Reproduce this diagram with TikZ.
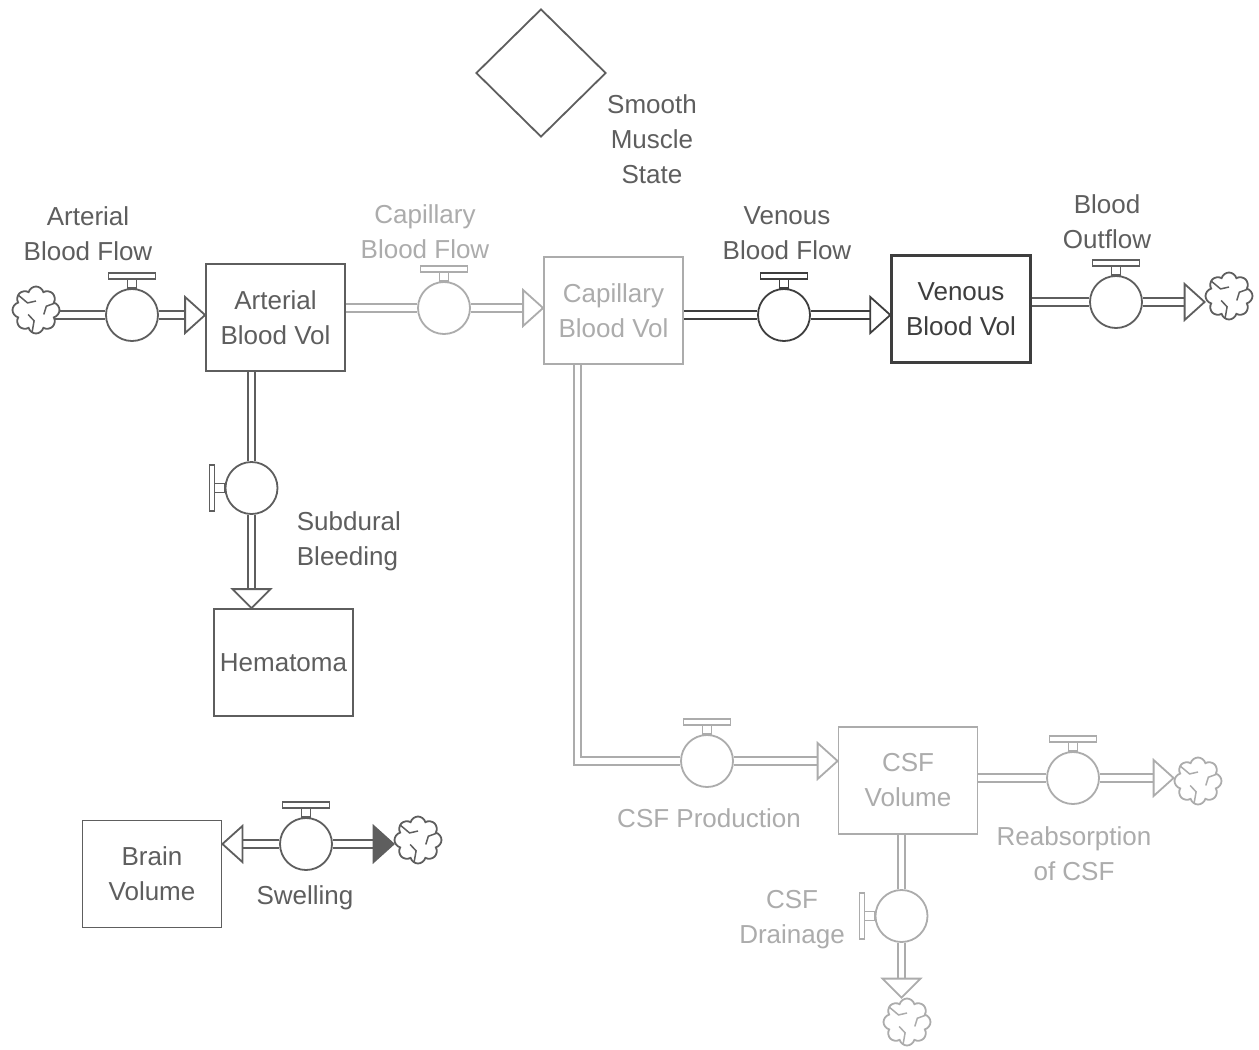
\documentclass[tikz,border=0pt]{standalone}
\usepackage{fontspec}
\setmainfont{Liberation Sans}
\usetikzlibrary{shapes.symbols,shapes.geometric,backgrounds,calc}
\definecolor{dk}{HTML}{5E5E5E}
\definecolor{dkk}{HTML}{3E3E3E}
\definecolor{lt}{HTML}{ACACAC}
\newcommand\myahR[3]{\draw[head, draw=#2, #3] (#1) -- ++(-20,-18) -- ++(0,36) -- cycle;}
\newcommand\myahL[3]{\draw[head, draw=#2, #3] (#1) -- ++(20,-18) -- ++(0,36) -- cycle;}
\newcommand\myahD[3]{\draw[head, draw=#2, #3] (#1) -- ++(-19,-19) -- ++(38,0) -- cycle;}
\begin{document}
\begin{tikzpicture}[x=1pt,y=-1pt, line width=1.8pt, line join=miter,
  ink/.style={draw=#1, text=#1},
  txt/.style={font=\fontsize{26}{35}\selectfont, align=center, inner sep=0pt},
  stock/.style={draw, fill=white, minimum width=139pt, minimum height=107pt, inner sep=0pt, txt},
  valve/.style={circle, draw, fill=white, minimum size=52pt, inner sep=0pt},
  pipe/.style={double=white, double distance=5.5pt, line width=1.8pt},
  head/.style={draw, fill=white},
  cloudy/.style={cloud, cloud puffs=8, aspect=1, draw=#1, fill=white, minimum width=47pt, minimum height=47pt, inner sep=0pt,
    path picture={\foreach \a in {100,220,340}{\draw[#1, line width=1.5pt] ($(path picture bounding box.center)+(\a:24)$) -- ($(path picture bounding box.center)+(\a:11)$) -- ($(path picture bounding box.center)+(\a+50:9)$);}}},
  htop/.pic={\draw[fill=white, line width=1.5pt] (-4.5,0) rectangle (4.5,-9); \draw[fill=white, line width=1.5pt] (-23.5,-9) rectangle (23.5,-15);},
  hleft/.pic={\draw[fill=white, line width=1.5pt] (0,-4.5) rectangle (-10,4.5); \draw[fill=white, line width=1.5pt] (-10,-23) rectangle (-15,23);}]
\useasboundingbox (0,0) rectangle (1259,1050);

% stocks
\node[stock, ink=dk] (abv) at (275.5,317.5) {Arterial\\Blood Vol};
\node[stock, ink=lt] (cbv) at (613.5,310.5) {Capillary\\Blood Vol};
\node[stock, ink=dkk, line width=2.4pt] (vbv) at (961,309) {Venous\\Blood Vol};
\node[stock, ink=dk] (hem) at (283.5,662.5) {Hematoma};
\node[stock, ink=dk] (brain) at (152,874) {Brain\\Volume};
\node[stock, ink=lt] (csf) at (908,780.5) {CSF\\Volume};

% converter
\node[diamond, draw=dk, minimum width=130pt, minimum height=128pt, inner sep=0pt] (sms) at (541,73) {};
\node[txt, text=dk] (smsl) at (652,139) {Smooth\\Muscle\\State};

% valves
\node[valve, draw=dk] (vaf) at (132,315) {};
\node[valve, draw=lt] (vcf) at (444,308) {};
\node[valve, draw=dkk] (vvf) at (784,315) {};
\node[valve, draw=dk] (vbo) at (1116,302) {};
\node[valve, draw=dk] (vsb) at (251.5,488) {};
\node[valve, draw=lt] (vcp) at (707,761) {};
\node[valve, draw=lt] (vre) at (1073,778) {};
\node[valve, draw=lt] (vdr) at (901.5,916) {};
\node[valve, draw=dk] (vsw) at (306,844) {};

\pic[dk] at (vaf.north) {htop};
\pic[lt] at (vcf.north) {htop};
\pic[dkk] at (vvf.north) {htop};
\pic[dk] at (vbo.north) {htop};
\pic[dk] at (vsb.west) {hleft};
\pic[lt] at (vcp.north) {htop};
\pic[lt] at (vre.north) {htop};
\pic[lt] at (vdr.west) {hleft};
\pic[dk] at (vsw.north) {htop};

% clouds
\node[cloudy=dk] (c1) at (36,310) {};
\node[cloudy=dk] (c2) at (1229,296) {};
\node[cloudy=lt] (c3) at (1198,781) {};
\node[cloudy=lt] (c4) at (907,1022) {};
\node[cloudy=dk] (c5) at (418,840) {};

% arrow tips
\coordinate (t1) at (abv.west |- vaf);
\coordinate (t2) at (cbv.west |- vcf);
\coordinate (t3) at (vbv.west |- vvf);
\coordinate (t4) at (c2.west |- vbo);
\coordinate (t5) at (hem.north -| vsb);
\coordinate (t6) at (csf.west |- vcp);
\coordinate (t7) at (c3.west |- vre);
\coordinate (t8) at (c4.north -| vdr);
\coordinate (t9) at (brain.east |- vsw);
\coordinate (t10) at (c5.west |- vsw);

\begin{scope}[on background layer]
\fill[white] (0,0) rectangle (1259,1050);
\draw[pipe, dk] (c1 |- vaf) -- (vaf) -- ($(t1)+(-20,0)$);
\draw[pipe, lt] (abv.center |- vcf) -- (vcf) -- ($(t2)+(-20,0)$);
\draw[pipe, dkk] (cbv.center |- vvf) -- (vvf) -- ($(t3)+(-20,0)$);
\draw[pipe, dk] (vbv.center |- vbo) -- (vbo) -- ($(t4)+(-20,0)$);
\draw[pipe, dk] (abv.center -| vsb) -- (vsb) -- ($(t5)+(0,-19)$);
\draw[pipe, lt] ([xshift=-36pt]cbv.center) |- (vcp) -- ($(t6)+(-20,0)$);
\draw[pipe, lt] (csf.center |- vre) -- (vre) -- ($(t7)+(-20,0)$);
\draw[pipe, lt] (csf.center -| vdr) -- (vdr) -- ($(t8)+(0,-19)$);
\draw[pipe, dk] ($(t9)+(20,0)$) -- (vsw) -- ($(t10)+(-20,0)$);
\end{scope}

\myahR{t1}{dk}{}
\myahR{t2}{lt}{}
\myahR{t3}{dkk}{}
\myahR{t4}{dk}{}
\myahD{t5}{dk}{}
\myahR{t6}{lt}{}
\myahR{t7}{lt}{}
\myahD{t8}{lt}{}
\myahL{t9}{dk}{}
\myahR{t10}{dk}{fill=dk}

% labels
\node[txt, text=dk] (laf) at (88,233.5) {Arterial\\Blood Flow};
\node[txt, text=lt] (lcf) at (425,231.5) {Capillary\\Blood Flow};
\node[txt, text=dk] (lvf) at (787,233.5) {Venous\\Blood Flow};
\node[txt, text=dk] (lbo) at (1107,221.5) {Blood\\Outflow};
\node[txt, text=dk, align=left, anchor=west] (lsb) at (296,541.5) {Subdural\\Bleeding};
\node[txt, text=lt] (lcp) at (709,818) {CSF Production};
\node[txt, text=lt] (lre) at (1074,854) {Reabsorption\\of CSF};
\node[txt, text=lt] (ldr) at (792,919.5) {CSF\\Drainage};
\node[txt, text=dk] (lsw) at (305,898) {Swelling};
\end{tikzpicture}
\end{document}
